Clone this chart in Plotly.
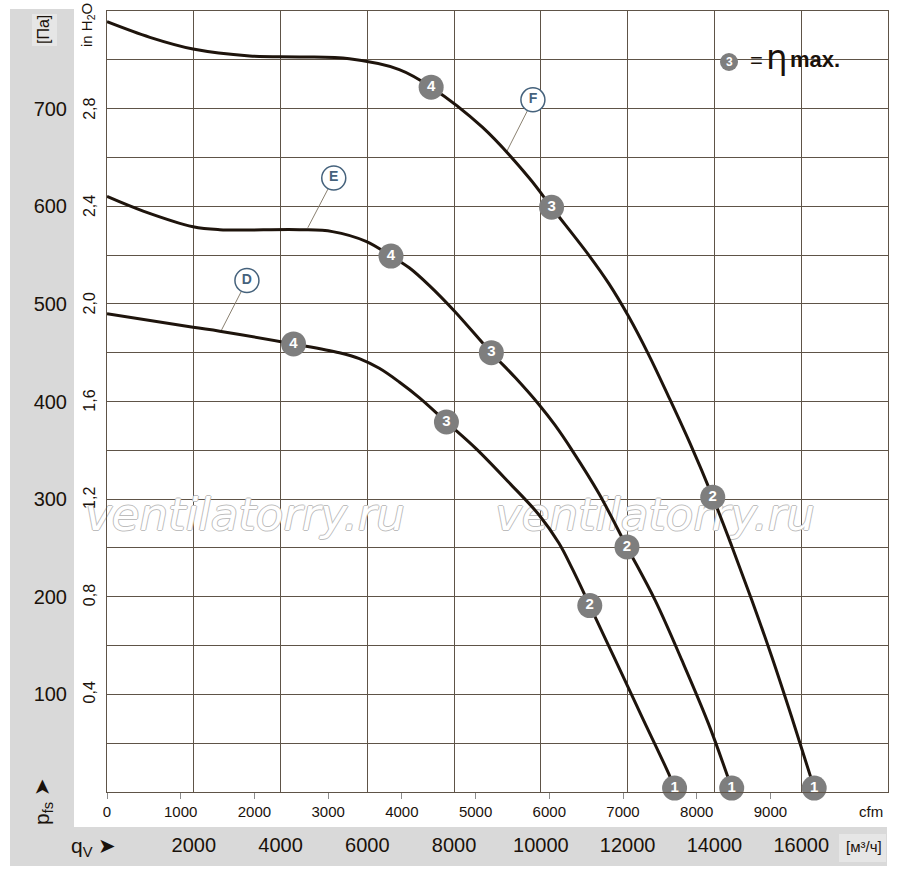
import plotly.graph_objects as go

# fan curves, flow in m3/h, static pressure in Pa
curve_names = ["D", "E", "F"]

flow_d = [0, 1984, 2598, 4299, 5356, 5816, 6276, 6736, 7196, 7823, 8499, 9265, 9954, 10414, 10720, 11127, 11718, 12329, 12943, 13081]
pres_d = [490, 476, 472, 459, 450, 444, 434, 420, 404, 379, 352, 317, 284, 255, 229, 191, 135, 77, 19, 4]

flow_e = [0, 834, 1984, 2598, 4437, 5196, 5970, 6545, 6966, 7425, 8000, 8858, 9419, 9954, 10322, 10720, 11334, 11984, 12637, 13249, 13862, 14398]
pres_e = [610, 595, 579, 576, 576, 574, 564, 549, 537, 519, 493, 450, 424, 397, 376, 350, 306, 251, 196, 135, 70, 4]

flow_f = [0, 989, 1984, 3287, 4437, 5586, 6736, 7471, 8651, 9731, 10246, 11103, 11563, 12023, 12483, 12943, 13448, 13961, 14398, 14858, 15318, 15778, 16299]
pres_f = [789, 773, 761, 754, 753, 751, 740, 722, 681, 629, 599, 550, 521, 487, 448, 405, 356, 302, 252, 197, 139, 77, 4]

# operating points 4..1 on each curve
point_labels = ["4", "3", "2", "1"]
pt_flow_d = [4299, 7823, 11127, 13081]
pt_pres_d = [459, 379, 191, 4]
pt_flow_e = [6545, 8858, 11984, 14398]
pt_pres_e = [549, 450, 251, 4]
pt_flow_f = [7471, 10246, 13961, 16299]
pt_pres_f = [722, 599, 302, 4]

# curve name tags and where their leader lines touch the curve
tag_flow = [3225, 5226, 9816]
tag_pres = [524, 629, 709]
lead_flow = [2637, 4628, 9212]
lead_pres = [473, 578, 656]

m3h_ticks = [2000, 4000, 6000, 8000, 10000, 12000, 14000, 16000]
cfm_ticks = [0, 1000, 2000, 3000, 4000, 5000, 6000, 7000, 8000, 9000]
pa_ticks = [100, 200, 300, 400, 500, 600, 700]
inh2o_ticks = [0.4, 0.8, 1.2, 1.6, 2.0, 2.4, 2.8]

watermark = "ventilatorry.ru"

M3H_PER_CFM = 1.69901
PA_PER_INH2O = 249.089
X_MAX = 18000
Y_MAX = 800

W, H = 900, 881
ML, MR, MT, MB = 107, 12, 11, 89
PW = W - ML - MR
PH = H - MT - MB

curve_color = "#1e140c"
grid_color = "#5e5347"
dot_color = "#7e7e7e"
tag_color = "#45627c"
band_color = "#d9d9d9"
text_color = "#1a120b"
font_main = "Liberation Sans Narrow, Liberation Sans, Arial, sans-serif"


def px(x):
    return (x - ML) / PW


def py(y):
    return (H - MB - y) / PH


fig = go.Figure()

# watermark sits under the curves
fig.add_trace(go.Scatter(x=[px(245) * X_MAX, px(655) * X_MAX], y=[py(519) * Y_MAX] * 2,
                         mode="text", text=[watermark, watermark], textposition="middle center",
                         textfont=dict(size=45, color="white", family="DejaVu Sans", style="italic",
                                       shadow="1px 0 0 #bdbdbd, -1px 0 0 #bdbdbd, 0 1px 0 #bdbdbd, 0 -1px 0 #bdbdbd"),
                         showlegend=False, hoverinfo="skip", cliponaxis=False))

curves = [(flow_d, pres_d), (flow_e, pres_e), (flow_f, pres_f)]
points = [(pt_flow_d, pt_pres_d), (pt_flow_e, pt_pres_e), (pt_flow_f, pt_pres_f)]

for i, name in enumerate(curve_names):
    fig.add_trace(go.Scatter(x=[tag_flow[i], lead_flow[i]], y=[tag_pres[i], lead_pres[i]],
                             mode="lines", line=dict(color="#8a8070", width=1),
                             showlegend=False, hoverinfo="skip"))

for i, name in enumerate(curve_names):
    xs, ys = curves[i]
    fig.add_trace(go.Scatter(x=xs, y=ys, mode="lines", name=name,
                             line=dict(color=curve_color, width=3, shape="spline", smoothing=1.0),
                             showlegend=False, cliponaxis=False))

for i, name in enumerate(curve_names):
    xs, ys = points[i]
    fig.add_trace(go.Scatter(x=xs, y=ys, mode="markers+text", text=point_labels,
                             textposition="middle center",
                             textfont=dict(color="white", size=15, family="Liberation Sans", weight="bold"),
                             marker=dict(size=25, color=dot_color, line=dict(width=0)),
                             showlegend=False, cliponaxis=False))

fig.add_trace(go.Scatter(x=tag_flow, y=tag_pres, mode="markers+text", text=curve_names,
                         textposition="middle center",
                         textfont=dict(color=tag_color, size=14, family="Liberation Sans", weight="bold"),
                         marker=dict(size=24, color="white", line=dict(width=1.5, color=tag_color)),
                         showlegend=False, cliponaxis=False))

# dummy traces to activate the cfm and in H2O axes
fig.add_trace(go.Scatter(x=[0], y=[0], xaxis="x2", mode="markers", marker=dict(opacity=0),
                         showlegend=False, hoverinfo="skip"))
fig.add_trace(go.Scatter(x=[0], y=[0], yaxis="y2", mode="markers", marker=dict(opacity=0),
                         showlegend=False, hoverinfo="skip"))

shapes = [
    # grey frame bands
    dict(type="rect", xref="paper", yref="paper", x0=px(10), x1=px(74), y0=py(866), y1=py(9),
         fillcolor=band_color, line_width=0, layer="below"),
    dict(type="rect", xref="paper", yref="paper", x0=px(10), x1=px(887), y0=py(866), y1=py(827),
         fillcolor=band_color, line_width=0, layer="below"),
    dict(type="rect", xref="paper", yref="paper", x0=px(32), x1=px(57), y0=py(46), y1=py(14),
         fillcolor="#e6e6e6", line_width=0, layer="below"),
    dict(type="rect", xref="paper", yref="paper", x0=px(839), x1=px(886), y0=py(862), y1=py(834),
         fillcolor="#e6e6e6", line_width=0, layer="below"),
    # legend box
    dict(type="rect", xref="paper", yref="paper", x0=px(708), x1=px(877), y0=py(92), y1=py(27),
         fillcolor="white", line_width=0, layer="between"),
    dict(type="circle", xref="paper", yref="paper", xsizemode="pixel", ysizemode="pixel",
         xanchor=px(729), yanchor=py(62), x0=-9, x1=9, y0=-9, y1=9,
         fillcolor=dot_color, line_width=0, layer="above"),
]

annotations = [
    dict(text="<b>3</b>", x=px(729), y=py(62), font=dict(size=12, color="white", family="Liberation Sans")),
    dict(text="=", x=px(756), y=py(61), font=dict(size=22, color=text_color, family=font_main)),
    dict(text="η", x=px(777), y=py(57), font=dict(size=34, color=text_color, family="DejaVu Sans")),
    dict(text="<b>max.</b>", x=px(815), y=py(60), font=dict(size=22, color=text_color, family=font_main)),
    dict(text="[Па]", x=px(44), y=py(30), textangle=-90, font=dict(size=16, color=text_color, family=font_main)),
    dict(text="in H<sub>2</sub>O", x=px(88), y=py(25), textangle=-90, font=dict(size=15, color=text_color, family=font_main)),
    dict(text="p<sub>fs</sub> ➤", x=px(43), y=py(802), textangle=-90, font=dict(size=21, color=text_color, family=font_main)),
    dict(text="q<sub>V</sub> ➤", x=px(93), y=py(847), font=dict(size=21, color=text_color, family=font_main)),
    dict(text="cfm", x=px(885), y=py(812), xanchor="right", font=dict(size=15, color=text_color, family=font_main)),
    dict(text="[м³/ч]", x=px(884), y=py(847), xanchor="right", font=dict(size=15, color=text_color, family=font_main)),
]
for a in annotations:
    a.setdefault("xanchor", "center")
    a.update(xref="paper", yref="paper", showarrow=False, yanchor="middle")

fig.update_layout(
    width=W, height=H,
    margin=dict(l=ML, r=MR, t=MT, b=MB),
    paper_bgcolor="white",
    plot_bgcolor="white",
    showlegend=False,
    shapes=shapes,
    annotations=annotations,
    xaxis=dict(range=[0, X_MAX], tickvals=m3h_ticks, ticktext=[str(v) for v in m3h_ticks],
               showgrid=True, gridcolor=grid_color, gridwidth=1, zeroline=False,
               showline=True, mirror=True, linecolor=grid_color, linewidth=1,
               ticks="", ticklabelstandoff=35,
               tickfont=dict(size=20, color=text_color, family=font_main)),
    xaxis2=dict(range=[0, X_MAX / M3H_PER_CFM], overlaying="x", side="bottom", anchor="y",
                tickvals=cfm_ticks, ticktext=[str(v) for v in cfm_ticks],
                showgrid=False, zeroline=False, showline=False,
                ticks="outside", ticklen=6, tickcolor="#8c8c8c", ticklabelstandoff=0,
                tickfont=dict(size=15, color=text_color, family=font_main)),
    yaxis=dict(range=[0, Y_MAX], tickvals=list(range(50, 800, 50)),
               ticktext=[str(v) if v in pa_ticks else "" for v in range(50, 800, 50)],
               showgrid=True, gridcolor=grid_color, gridwidth=1, zeroline=False,
               showline=True, mirror=True, linecolor=grid_color, linewidth=1,
               ticks="", ticklabelstandoff=35,
               tickfont=dict(size=20, color=text_color, family=font_main)),
    yaxis2=dict(range=[0, Y_MAX / PA_PER_INH2O], overlaying="y", side="left", anchor="x",
                tickvals=inh2o_ticks, ticktext=[("%.1f" % v).replace(".", ",") for v in inh2o_ticks],
                tickangle=-90, showgrid=False, zeroline=False, showline=False,
                ticks="", ticklabelstandoff=8,
                tickfont=dict(size=16, color=text_color, family=font_main)),
)

fig.write_html("out.html", config={"displayModeBar": False},
               post_script="document.body.style.margin='0px';")
